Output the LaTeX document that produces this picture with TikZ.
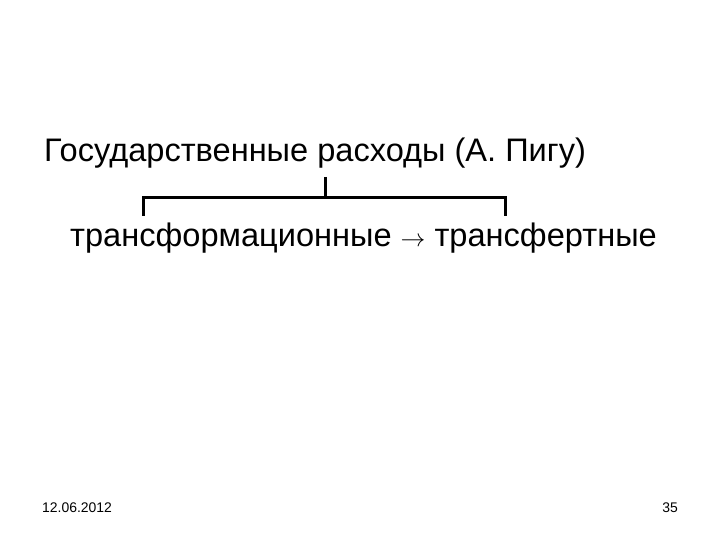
\documentclass[tikz,border=0pt]{standalone}
\usepackage{fontspec}
\setmainfont{Liberation Sans}
\begin{document}
\begin{tikzpicture}[x=1bp,y=-1bp,
  big/.style={font=\fontsize{32.7}{36}\selectfont, inner sep=0pt, anchor=base west},
  small/.style={font=\fontsize{14}{16}\selectfont, inner sep=0pt, anchor=base west},
  br/.style={line width=3bp}]
\useasboundingbox[fill=white] (0,0) rectangle (720,540);
\node[big] (title) at (44,162) {Государственные расходы (А. Пигу)};
\node[big] (sub) at (70,247) {трансформационные $\rightarrow$ трансфертные};
\coordinate (top) at (325,177);
\coordinate (mid) at (325,198);
\coordinate (l) at (143,198);
\coordinate (r) at (505,198);
\coordinate (lb) at (143,216);
\coordinate (rb) at (505,216);
\draw[br] (top) -- (mid);
\draw[br] (lb) -- (l) -- (r) -- (rb);
\node[small] (date) at (42,512) {12.06.2012};
\node[small, anchor=base east] (page) at (678,512) {35};
\end{tikzpicture}
\end{document}
